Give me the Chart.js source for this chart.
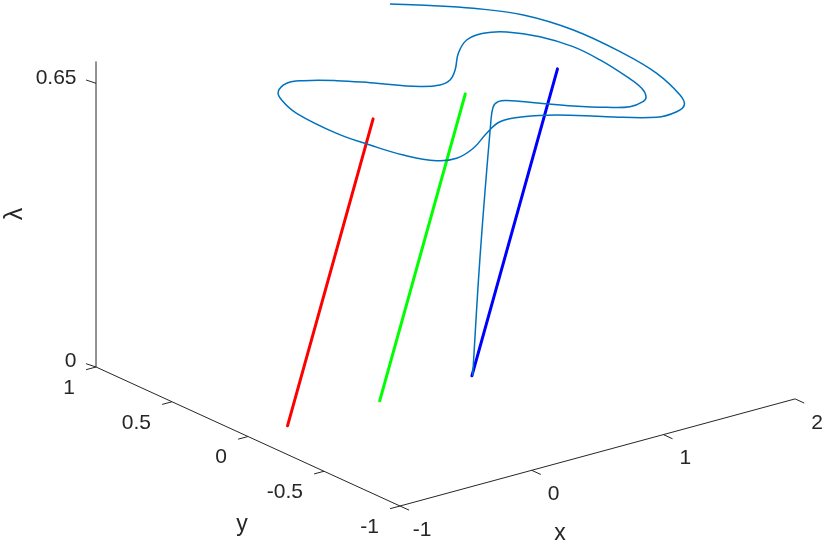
<!DOCTYPE html>
<html>
<head>
<meta charset="utf-8">
<script src="https://cdn.jsdelivr.net/npm/chart.js@4.4.1/dist/chart.umd.min.js"></script>
<style>
html, body { margin: 0; padding: 0; background: #fff; }
#wrap { width: 830px; height: 549px; }
</style>
</head>
<body>
<div id="wrap"><canvas id="chart" width="830" height="549"></canvas></div>
<script>
// axis limits and ticks
var xLim = [-1, 2];
var yLim = [-1, 1];
var lamLim = [0, 0.7];
var xTicks = [-1, 0, 1, 2];
var xTickLabels = ['-1', '0', '1', '2'];
var yTicks = [-1, -0.5, 0, 0.5, 1];
var yTickLabels = ['-1', '-0.5', '0', '0.5', '1'];
var lamTicks = [0, 0.65];
var lamTickLabels = ['0', '0.65'];

// equilibrium branches: x = x0 + lambda, y = 0
var branchX0 = [-0.7, 0, 0.7];
var branchLam = [0, 0.65];
var branchColors = ['#ff0000', '#00ff00', '#0000ff'];

// trajectory (x, y, lambda)
var trajX = [0.706, 0.762, 0.843, 0.877, 0.944, 0.988, 1.108, 1.228, 1.366, 1.474,
    1.579, 1.637, 1.695, 1.735, 1.773, 1.774, 1.711, 1.593, 1.458, 1.300,
    1.113, 0.914, 0.776, 0.667, 0.547, 0.340, 0.193, 0.024, -0.091, -0.228,
    -0.307, -0.384, -0.411, -0.383, -0.337, -0.247, -0.136, 0.039, 0.250, 0.425,
    0.579, 0.747, 0.959, 1.182, 1.326, 1.423, 1.498, 1.604, 1.644, 1.640,
    1.549, 1.371, 1.185, 1.000];
var trajY = [0, 0, 0, 0.013, 0.038, 0.020, -0.095, -0.208, -0.310, -0.369,
    -0.364, -0.334, -0.255, -0.122, 0.087, 0.265, 0.428, 0.544, 0.582, 0.554,
    0.447, 0.296, 0.210, 0.182, 0.209, 0.358, 0.450, 0.524, 0.533, 0.470,
    0.379, 0.214, -0.073, -0.268, -0.448, -0.589, -0.624, -0.582, -0.487, -0.423,
    -0.443, -0.517, -0.663, -0.799, -0.805, -0.771, -0.678, -0.433, -0.178, 0.147,
    0.397, 0.572, 0.696, 0.799];
var trajLam = [0, 0.268, 0.567, 0.600, 0.602, 0.604, 0.606, 0.608, 0.610, 0.612,
    0.614, 0.616, 0.618, 0.620, 0.622, 0.624, 0.626, 0.628, 0.630, 0.632,
    0.634, 0.636, 0.638, 0.640, 0.642, 0.644, 0.646, 0.648, 0.650, 0.652,
    0.654, 0.656, 0.658, 0.660, 0.662, 0.664, 0.666, 0.668, 0.670, 0.672,
    0.674, 0.676, 0.678, 0.680, 0.682, 0.684, 0.686, 0.688, 0.690, 0.692,
    0.694, 0.696, 0.698, 0.700];

// view: where the (xmin, ymin, 0) corner lands and how each unit is drawn
var origin = [400, 506];
var ex = [131.7, -35.7];
var ey = [-152, -69.5];
var ez = [0, -436.5];

function proj(x, y, l) {
    var a = x - xLim[0], b = y - yLim[0];
    return {
        x: origin[0] + ex[0] * a + ey[0] * b + ez[0] * l,
        y: origin[1] + ex[1] * a + ey[1] * b + ez[1] * l
    };
}

var datasets = [];
datasets.push({
    label: 'trajectory',
    data: trajX.map(function (v, i) { return proj(v, trajY[i], trajLam[i]); }),
    showLine: true,
    borderColor: '#0072bd',
    borderWidth: 1.5,
    pointRadius: 0,
    tension: 0.4,
    fill: false
});
for (var k = 0; k < branchX0.length; k++) {
    datasets.push({
        label: 'branch' + k,
        data: branchLam.map(function (l) { return proj(branchX0[k] + l, 0, l); }),
        showLine: true,
        borderColor: branchColors[k],
        borderWidth: 3,
        borderCapStyle: 'round',
        pointRadius: 0,
        fill: false
    });
}

var textColor = '#262626';
var tickFont = '21px "Liberation Sans", Arial, sans-serif';
var labelFont = '23px "Liberation Sans", Arial, sans-serif';

var box3d = {
    id: 'box3d',
    beforeDraw: function (chart) {
        var c = chart.ctx;
        c.save();
        c.fillStyle = '#fff';
        c.fillRect(0, 0, chart.width, chart.height);
        c.restore();
    },
    beforeDatasetsDraw: function (chart) {
        var c = chart.ctx;
        var sx = chart.scales.x, sy = chart.scales.y;
        function px(p) { return [sx.getPixelForValue(p.x), sy.getPixelForValue(p.y)]; }
        function seg(p, q) {
            var a = px(p), b = px(q);
            c.beginPath();
            c.moveTo(a[0], a[1]);
            c.lineTo(b[0], b[1]);
            c.stroke();
        }
        c.save();
        c.strokeStyle = textColor;
        c.lineWidth = 1;
        // axis lines
        seg(proj(xLim[0], yLim[0], 0), proj(xLim[1], yLim[0], 0));
        seg(proj(xLim[0], yLim[0], 0), proj(xLim[0], yLim[1], 0));
        seg(proj(xLim[0], yLim[1], lamLim[0]), proj(xLim[0], yLim[1], lamLim[1]));

        c.fillStyle = textColor;
        c.font = tickFont;
        // x ticks
        c.textAlign = 'center';
        c.textBaseline = 'middle';
        xTicks.forEach(function (t, i) {
            seg(proj(t, yLim[0], 0), proj(t, yLim[0] - 0.06, 0));
            var p = px(proj(t, yLim[0], 0));
            c.fillText(xTickLabels[i], p[0] + 22, p[1] + 24);
        });
        // y ticks
        c.textAlign = 'right';
        yTicks.forEach(function (t, i) {
            seg(proj(xLim[0], t, 0), proj(xLim[0] - 0.075, t, 0));
            var p = px(proj(xLim[0], t, 0));
            c.fillText(yTickLabels[i], p[0] - 21, p[1] + 21);
        });
        // lambda ticks
        lamTicks.forEach(function (t, i) {
            seg(proj(xLim[0], yLim[1], t), proj(xLim[0] - 0.013, yLim[1] + 0.054, t));
            var p = px(proj(xLim[0], yLim[1], t));
            c.fillText(lamTickLabels[i], p[0] - 19.5, p[1] - 5.5);
        });

        // axis labels
        c.font = labelFont;
        c.textAlign = 'center';
        c.fillText('x', 560, 534);
        c.fillText('y', 242, 525);
        c.font = '25px "Liberation Sans", Arial, sans-serif';
        c.translate(15, 214);
        c.rotate(-Math.PI / 2);
        c.fillText('\u03bb', 0, 0);
        c.restore();
    }
};

new Chart(document.getElementById('chart'), {
    type: 'scatter',
    data: { datasets: datasets },
    options: {
        responsive: false,
        animation: false,
        devicePixelRatio: 1,
        layout: { padding: 0 },
        clip: false,
        scales: {
            x: { type: 'linear', min: 0, max: 830, display: false },
            y: { type: 'linear', min: 0, max: 549, reverse: true, display: false }
        },
        plugins: {
            legend: { display: false },
            tooltip: { enabled: false }
        }
    },
    plugins: [box3d]
});
</script>
</body>
</html>
